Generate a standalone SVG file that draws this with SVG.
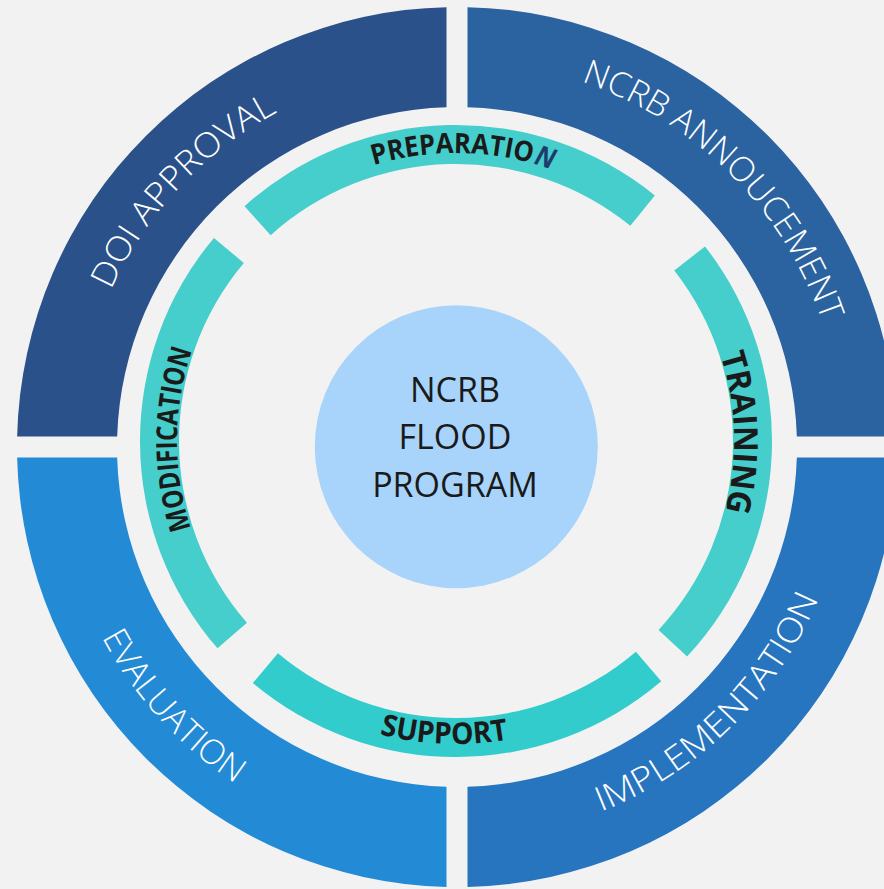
<svg xmlns="http://www.w3.org/2000/svg" width="884" height="889" viewBox="0 0 884 889">
  <style>
    .quad-label { font-family: "Open Sans", "Lato", "Liberation Sans", sans-serif; font-weight: 300; font-size: 34px; fill: #ffffff; }
    .step-label { font-family: "Open Sans", "Liberation Sans", sans-serif; font-weight: 700; fill: #1a1a1a; }
    .hub-label { font-family: "Open Sans", "Liberation Sans", sans-serif; font-size: 34px; fill: #1a1a1a; text-anchor: middle; }
    .step { fill: #45cecb; }
  </style>
  <defs>
    <!-- baseline arcs for the outer quadrant labels (centre 457,447) -->
    <path id="arc-doi" d="M 77.21 459.60 A 380 380 0 0 1 444.40 67.21"/>
    <path id="arc-ncrb" d="M 456.33 61.01 A 386 386 0 0 1 842.99 446.33"/>
    <path id="arc-eval" d="M 54.41 428.72 A 403 403 0 0 0 438.72 849.59"/>
    <path id="arc-impl" d="M 452.90 838.98 A 392 392 0 0 0 848.98 451.10"/>
    <!-- baseline arcs for the inner step labels (centre 456,441) -->
    <path id="arc-prep" d="M 257.39 232.44 A 288 288 0 0 1 664.56 242.39"/>
    <path id="arc-train" d="M 646.66 238.67 A 278 278 0 0 1 658.32 631.65"/>
    <path id="arc-mod" d="M 257.52 637.07 A 279 279 0 0 1 259.93 242.51"/>
    <path id="arc-supp" d="M 233.32 646.48 A 303 303 0 0 0 661.48 663.68"/>
  </defs>

  <rect width="884" height="889" fill="#f2f2f2"/>

  <!-- outer ring: four quadrants -->
  <g id="doi-approval">
    <path d="M 17.13 436.5 A 440 440 0 0 1 446.5 7.13 L 446.5 107.16 A 340 340 0 0 0 117.16 436.5 Z" fill="#2a5189"/>
    <text class="quad-label" text-anchor="middle" textLength="248" lengthAdjust="spacingAndGlyphs"><textPath href="#arc-doi" startOffset="50%">DOI APPROVAL</textPath></text>
  </g>
  <g id="ncrb-announcement">
    <path d="M 467.5 7.13 A 440 440 0 0 1 896.88 436.5 L 796.84 436.5 A 340 340 0 0 0 467.5 107.16 Z" fill="#2b62a0"/>
    <text class="quad-label" text-anchor="middle" textLength="352" lengthAdjust="spacingAndGlyphs"><textPath href="#arc-ncrb" startOffset="50%">NCRB ANNOUCEMENT</textPath></text>
  </g>
  <g id="implementation">
    <path d="M 896.88 457.5 A 440 440 0 0 1 467.5 886.88 L 467.5 786.84 A 340 340 0 0 0 796.84 457.5 Z" fill="#2775bf"/>
    <text class="quad-label" text-anchor="middle" textLength="313" lengthAdjust="spacingAndGlyphs"><textPath href="#arc-impl" startOffset="50%">IMPLEMENTATION</textPath></text>
  </g>
  <g id="evaluation">
    <path d="M 446.5 886.88 A 440 440 0 0 1 17.13 457.5 L 117.16 457.5 A 340 340 0 0 0 446.5 786.84 Z" fill="#238ad6"/>
    <text class="quad-label" text-anchor="middle" textLength="200" lengthAdjust="spacingAndGlyphs"><textPath href="#arc-eval" startOffset="50%">EVALUATION</textPath></text>
  </g>

  <!-- inner ring: four steps -->
  <g id="preparation">
    <path class="step" d="M 244.55 206.17 A 316 316 0 0 1 654.87 195.42 L 630.32 225.73 A 277 277 0 0 0 270.65 235.15 Z"/>
    <text class="step-label" font-size="28" text-anchor="middle" textLength="181" lengthAdjust="spacingAndGlyphs"><textPath href="#arc-prep" startOffset="50%">PREPARATIO<tspan dx="2" fill="#1f3b6b" font-style="italic">N</tspan></textPath></text>
  </g>
  <g id="training">
    <path class="step" d="M 705.01 246.45 A 316 316 0 0 1 687.11 656.51 L 658.58 629.91 A 277 277 0 0 0 674.28 270.46 Z"/>
    <text class="step-label" font-size="33" text-anchor="middle" textLength="158" lengthAdjust="spacingAndGlyphs"><textPath href="#arc-train" startOffset="50%">TRAINING</textPath></text>
  </g>
  <g id="support">
    <path d="M 661.23 681.29 A 316 316 0 0 1 252.88 683.07 L 277.95 653.19 A 277 277 0 0 0 635.90 651.63 Z" fill="#33cccc"/>
    <text class="step-label" font-size="30" text-anchor="middle" textLength="130" lengthAdjust="spacingAndGlyphs"><textPath href="#arc-supp" startOffset="50%">SUPPORT</textPath></text>
  </g>
  <g id="modification">
    <path class="step" d="M 217.51 648.31 A 316 316 0 0 1 213.93 237.88 L 243.81 262.95 A 277 277 0 0 0 246.95 622.73 Z"/>
    <text class="step-label" font-size="29" text-anchor="middle" textLength="181" lengthAdjust="spacingAndGlyphs"><textPath href="#arc-mod" startOffset="50%">MODIFICATION</textPath></text>
  </g>

  <!-- hub -->
  <g id="hub">
    <circle cx="456.3" cy="446.7" r="141.5" fill="#a8d4fb"/>
    <text class="hub-label" x="455" y="402">NCRB</text>
    <text class="hub-label" x="455" y="449">FLOOD</text>
    <text class="hub-label" x="455" y="496.5">PROGRAM</text>
  </g>
</svg>
